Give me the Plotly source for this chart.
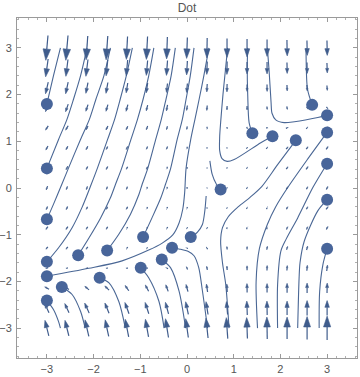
import math
import plotly.graph_objects as go

# ---------------- data ----------------
# vector grid (15 x 15), rows listed from top (y=3) to bottom (y=-3)
grid_x = [-3 + 6 * i / 14 for i in range(15)]
grid_y = [3 - 6 * j / 14 for j in range(15)]

# arrow magnitudes (relative units) and directions (degrees, CCW from +x)
mag = [
    [25, 25, 24, 24, 23, 23, 22, 21, 20, 19, 18, 17, 16, 15, 15],
    [18, 17, 17, 16, 16, 15, 15, 14, 13, 13, 12, 12, 11, 11, 10],
    [12, 12, 11, 11, 10, 10, 9, 9, 8, 8, 7, 7, 6, 6, 5],
    [8, 8, 7, 7, 7, 6, 6, 5, 5, 4, 4, 3, 3, 2.5, 2.5],
    [5, 5, 4.5, 4.5, 4, 4, 3.5, 3, 2.5, 2, 2, 2, 2.5, 2.5, 3],
    [4.5, 4, 4, 3.5, 3.5, 3, 3, 2.5, 1.5, 1.5, 2, 2.5, 3, 3, 3.5],
    [4, 4, 3.5, 3.5, 3, 3, 2.5, 2, 1, 1.5, 2, 2.5, 3, 3.5, 3.5],
    [4, 3.5, 3.5, 3, 3, 2.5, 2.5, 2, 1, 1.5, 2, 2.5, 3, 3, 3.5],
    [3.5, 3.5, 3, 3, 3, 2.5, 2.5, 2, 1.5, 1.5, 2, 2.5, 3, 3, 3.5],
    [3.5, 3.5, 3, 3, 2.5, 2.5, 2.5, 2, 2, 2, 2.5, 2.5, 3, 3, 3.5],
    [3, 3, 3, 2.5, 2.5, 2, 2, 2, 2.5, 3, 3, 3.5, 3.5, 4, 4],
    [2.5, 2, 2, 2, 2, 2, 2.5, 3, 3.5, 4, 4.5, 5, 5, 5.5, 6],
    [5, 5, 5.5, 6, 6.5, 7, 7, 7.5, 8, 8, 9, 9, 9.5, 10, 10],
    [10, 10, 11, 11, 12, 12, 12, 13, 13, 13, 14, 14, 14, 15, 15],
    [16, 16, 17, 17, 18, 18, 19, 19, 20, 21, 21, 22, 22, 23, 24],
]
ang = [
    [-95, -95, -94, -94, -93, -93, -92, -92, -91, -90, -90, -90, -89, -89, -89],
    [-98, -97, -97, -96, -95, -95, -94, -93, -92, -91, -90, -90, -89, -89, -88],
    [-103, -102, -101, -100, -99, -98, -96, -95, -93, -91, -90, -89, -88, -87, -86],
    [-110, -109, -108, -106, -105, -103, -100, -98, -95, -92, -90, -85, -80, -70, -60],
    [-122, -120, -118, -116, -114, -110, -106, -100, -95, -90, -80, 0, 20, 40, 50],
    [-118, -117, -116, -115, -114, -113, -112, -110, -105, -20, 30, 40, 48, 52, 55],
    [-115, -116, -117, -118, -118, -117, -112, -100, -75, 10, 45, 50, 52, 54, 55],
    [-110, -110, -109, -109, -109, -108, -106, -98, -60, 45, 45, 52, 58, 62, 62],
    [-113, -113, -114, -115, -115, -115, -117, -120, -100, 48, 52, 62, 64, 60, 52],
    [-125, -125, -122, -120, -120, -118, -125, -135, -137, 70, 66, 70, 65, 66, 65],
    [-130, -128, -126, -125, -125, -130, -170, 145, 115, 95, 88, 80, 72, 75, 75],
    [-160, -168, -172, -175, -178, 175, 140, 112, 100, 93, 90, 88, 86, 85, 83],
    [150, 145, 140, 135, 125, 118, 110, 105, 98, 93, 91, 90, 90, 90, 89],
    [115, 115, 114, 112, 110, 108, 105, 102, 99, 95, 92, 91, 90, 90, 90],
    [104, 104, 103, 102, 101, 100, 99, 98, 96, 94, 92, 91, 90, 90, 90],
]

# stream lines (each ends in a dot at its first point)
streams = [
    [(-3.0, 1.80), (-2.86, 2.40), (-2.71, 3.0)],
    [(-3.0, 0.42), (-2.75, 1.04), (-2.57, 1.47), (-2.43, 1.90), (-2.28, 2.40), (-2.14, 3.0)],
    [(-3.0, -0.67), (-2.86, -0.35), (-2.68, 0.08), (-2.54, 0.42), (-2.28, 1.04), (-2.09, 1.47),
     (-1.95, 1.90), (-1.78, 2.40), (-1.64, 3.0)],
    [(-3.0, -1.58), (-2.75, -1.28), (-2.46, -0.85), (-2.25, -0.42), (-2.05, 0.08), (-1.92, 0.42),
     (-1.70, 1.04), (-1.55, 1.47), (-1.43, 1.90), (-1.30, 2.40), (-1.17, 3.0)],
    [(-3.0, -1.89), (-2.10, -1.72), (-1.39, -1.56), (-0.82, -1.33), (-0.53, -1.18), (-0.30, -1.0),
     (-0.17, -0.75), (-0.09, -0.45), (-0.05, -0.10), (-0.02, 0.42), (0.08, 1.04), (0.17, 1.47),
     (0.26, 1.90), (0.36, 2.40), (0.47, 3.0)],
    [(-3.0, -2.41), (-2.86, -2.60), (-2.75, -2.86), (-2.71, -3.0)],
    [(-2.68, -2.12), (-2.46, -2.28), (-2.28, -2.64), (-2.18, -3.0)],
    [(-2.33, -1.44), (-2.10, -1.07), (-1.85, -0.64), (-1.64, -0.21), (-1.53, 0.08), (-1.40, 0.42),
     (-1.20, 1.04), (-1.06, 1.47), (-0.94, 1.90), (-0.82, 2.40), (-0.71, 3.0)],
    [(-1.87, -1.92), (-1.67, -2.03), (-1.46, -2.43), (-1.32, -3.0)],
    [(-1.71, -1.34), (-1.46, -0.99), (-1.21, -0.56), (-1.03, -0.14), (-0.96, 0.08), (-0.84, 0.42),
     (-0.67, 1.04), (-0.55, 1.47), (-0.45, 1.90), (-0.34, 2.40), (-0.25, 3.0)],
    [(-0.94, -1.05), (-0.75, -0.64), (-0.56, -0.21), (-0.46, 0.08), (-0.35, 0.42), (-0.21, 1.04),
     (-0.10, 1.47), (-0.02, 1.90), (0.07, 2.40), (0.15, 3.0)],
    [(-0.99, -1.71), (-0.82, -1.92), (-0.60, -2.43), (-0.49, -3.0)],
    [(-0.54, -1.53), (-0.35, -1.71), (-0.17, -2.21), (-0.03, -3.0)],
    [(-0.32, -1.28), (-0.15, -1.31), (0.03, -1.36), (0.15, -1.45), (0.25, -1.70), (0.33, -2.20),
     (0.44, -3.0)],
    [(0.08, -1.05), (0.22, -0.95), (0.33, -0.78), (0.38, -0.50), (0.41, -0.17)],
    [(0.72, -0.03), (0.63, 0.08), (0.54, 0.29), (0.49, 0.58)],
    [(1.40, 1.17), (1.33, 1.40), (1.30, 2.0), (1.29, 2.6), (1.30, 3.0)],
    [(1.83, 1.11), (1.58, 0.97), (1.01, 0.61), (0.86, 0.57), (0.75, 0.63), (0.70, 0.80),
     (0.70, 1.10), (0.72, 1.40), (0.77, 2.0), (0.82, 2.5), (0.87, 3.0)],
    [(2.33, 1.02), (1.94, 0.50), (1.60, 0.03), (1.35, -0.20), (1.10, -0.40), (0.88, -0.62),
     (0.76, -0.85), (0.72, -1.14), (0.76, -1.60), (0.83, -2.07), (0.90, -3.0)],
    [(2.68, 1.78), (2.58, 2.12), (2.55, 2.83), (2.55, 3.0)],
    [(3.0, 1.56), (2.80, 1.51), (2.30, 1.42), (2.08, 1.40), (1.90, 1.46), (1.82, 1.60),
     (1.80, 1.83), (1.76, 2.48), (1.72, 3.0)],
    [(3.0, 1.19), (2.57, 0.60), (2.15, 0.0), (1.90, -0.40), (1.72, -0.78), (1.55, -1.30),
     (1.48, -2.0), (1.51, -3.0)],
    [(3.0, 0.52), (2.70, 0.02), (2.37, -0.64), (2.12, -1.10), (2.01, -1.35), (1.94, -2.07),
     (1.94, -3.0)],
    [(3.0, -0.25), (2.80, -0.49), (2.51, -1.14), (2.42, -1.60), (2.40, -1.93), (2.37, -3.0)],
    [(3.0, -1.30), (2.91, -1.64), (2.84, -2.22), (2.83, -3.0)],
]

title_text = "Dot"
tick_vals = [-3, -2, -1, 0, 1, 2, 3]

# ---------------- figure ----------------
COL_ARROW = "#3f5c8c"
COL_LINE = "#4a6795"
COL_DOT = "#48659a"
PX = 1 / 46.7  # data units per pixel of arrow magnitude

fig = go.Figure()

# stream lines
for s in streams:
    fig.add_trace(go.Scatter(
        x=[p[0] for p in s], y=[p[1] for p in s], mode="lines",
        line=dict(color=COL_LINE, width=1.1, shape="spline", smoothing=0.8),
        hoverinfo="skip", showlegend=False))

# arrows
shaft_x, shaft_y, head_x, head_y = [], [], [], []
for j, yc in enumerate(grid_y):
    for i, xc in enumerate(grid_x):
        L = mag[j][i] * PX
        a = math.radians(ang[j][i])
        dx, dy = math.cos(a), math.sin(a)
        px, py = -dy, dx
        tx, ty = xc + dx * L / 2, yc + dy * L / 2
        sx, sy = xc - dx * L / 2, yc - dy * L / 2
        hl, hw = 0.45 * L, 0.15 * L
        bx, by = tx - dx * hl, ty - dy * hl
        shaft_x += [sx, bx, None]
        shaft_y += [sy, by, None]
        head_x += [tx, bx + px * hw, bx - px * hw, tx, None]
        head_y += [ty, by + py * hw, by - py * hw, ty, None]

fig.add_trace(go.Scatter(x=shaft_x, y=shaft_y, mode="lines",
                         line=dict(color=COL_ARROW, width=1.2),
                         hoverinfo="skip", showlegend=False))
fig.add_trace(go.Scatter(x=head_x, y=head_y, mode="lines", fill="toself",
                         fillcolor=COL_ARROW, line=dict(color=COL_ARROW, width=0.6),
                         hoverinfo="skip", showlegend=False))

# dots
fig.add_trace(go.Scatter(x=[s[0][0] for s in streams], y=[s[0][1] for s in streams],
                         mode="markers", marker=dict(color=COL_DOT, size=12, line=dict(width=0)),
                         hoverinfo="skip", showlegend=False))

axis_common = dict(
    tickvals=tick_vals, ticks="inside", ticklen=4, tickwidth=1, tickcolor="#9a9a9a",
    showline=True, linecolor="#9a9a9a", linewidth=1, mirror="allticks",
    showgrid=False, zeroline=False, automargin=False,
    tickfont=dict(family="Liberation Sans", size=11, color="#555555"),
    minor=dict(ticks="inside", dtick=0.2, ticklen=2, tickcolor="#b0b0b0", showgrid=False),
)
fig.update_xaxes(range=[-3.64, 3.64], ticklabelstandoff=1, **axis_common)
fig.update_yaxes(range=[-3.64, 3.64], ticklabelstandoff=2, **axis_common)

fig.update_layout(
    width=360, height=377,
    margin=dict(l=17, r=3, t=18, b=19),
    paper_bgcolor="white", plot_bgcolor="white",
    title=dict(text=title_text, x=0.5, xref="paper", y=1 - 8 / 377, yanchor="middle",
               font=dict(family="Liberation Sans", size=12, color="#555555")),
)

fig.write_html("out.html", config={"displayModeBar": False},
               post_script="document.body.style.margin='0px';")
